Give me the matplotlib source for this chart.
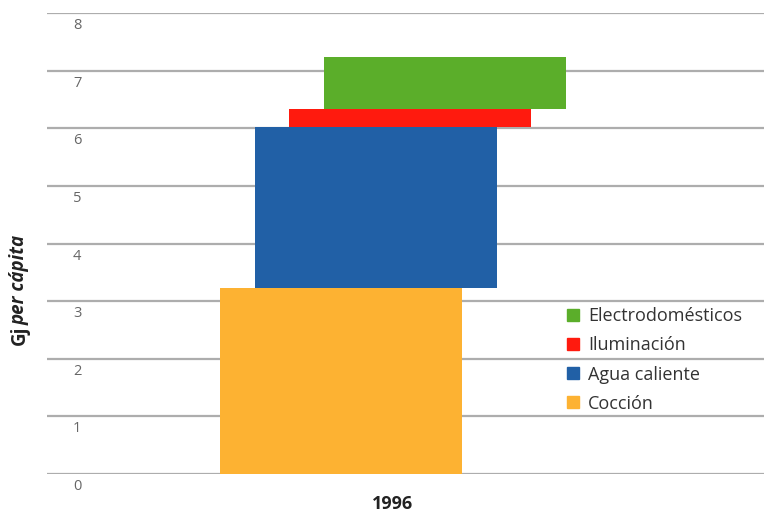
import matplotlib
matplotlib.use("Agg")
from matplotlib import pyplot as plt
from matplotlib.patches import Patch

# datos (Gj per cápita, 1996)
categorias = ['Cocción', 'Agua caliente', 'Iluminación', 'Electrodomésticos']
valores = [3.23, 2.79, 0.31, 0.91]
colores = ['#FDB232', '#2160A6', '#FF1A0E', '#5BAE2A']
anio = '1996'
yticks = [0, 1, 2, 3, 4, 5, 6, 7, 8]

plt.rcParams['font.family'] = ['Open Sans', 'DejaVu Sans']

fig = plt.figure(figsize=(7.64, 5.15), dpi=100)
ax = fig.add_axes([47 / 764, 41 / 515, 1 - 47 / 764, 461 / 515])

ancho = 0.7
desp = 0.1
base = 0
for i, (cat, v, c) in enumerate(zip(categorias, valores, colores)):
    ax.bar((i - 1.5) * desp, v, width=ancho, bottom=base, color=c, zorder=3, label=cat)
    base += v

ax.set_xlim(-1.0, 1.073)
ax.set_ylim(0, 8)
for s in ax.spines.values():
    s.set_visible(False)

ax.set_yticks(yticks)
ax.set_yticklabels([])
ax.tick_params(axis='y', length=0)
ax.yaxis.grid(True, color='#adadad', lw=1.6)
ax.set_axisbelow(True)
for t in yticks:
    ax.annotate(str(t), xy=(0.042, t), xycoords=ax.get_yaxis_transform(),
                xytext=(0, -9), textcoords='offset points',
                ha='center', va='center', fontsize=10.5, color='#666666')

ax.set_xticks([0])
ax.set_xticklabels([anio], fontweight='bold', fontsize=13, color='#222222')
ax.tick_params(axis='x', length=0, pad=15)

# etiqueta del eje y: "Gj" normal, "per cápita" en cursiva
fig.text(20 / 764, (515 - 345) / 515, 'Gj', rotation=90, ha='center', va='bottom',
         fontsize=13.5, fontweight='bold', color='#222222')
fig.text(20 / 764, (515 - 325) / 515, 'per cápita', rotation=90, ha='center', va='bottom',
         fontsize=13.5, fontweight='bold', fontstyle='italic', color='#222222')

handles = [Patch(color=c, label=cat) for cat, c in zip(categorias, colores)][::-1]
leg = ax.legend(handles=handles, loc='center left', bbox_to_anchor=(504 / 717, (474 - 360) / 461),
                frameon=False, fontsize=13, handlelength=0.65, handleheight=0.65,
                handletextpad=0.5, labelspacing=0.62)
for t in leg.get_texts():
    t.set_color('#333333')

fig.savefig('out.png', dpi=100)
